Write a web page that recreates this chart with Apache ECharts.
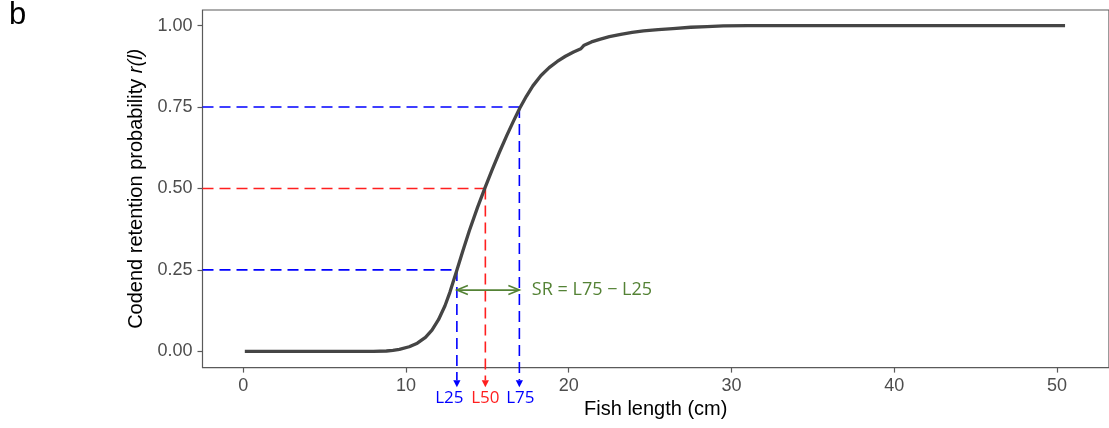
<!DOCTYPE html>
<html><head><meta charset="utf-8">
<script src="https://cdn.jsdelivr.net/npm/echarts@6/dist/echarts.min.js"></script>
<style>html,body{margin:0;padding:0;background:#fff}#c{width:1109px;height:428px}</style>
</head><body><div id="c"></div>
<script>
// ---- data ----
const fishLength = [0.1, 2, 4, 6, 8, 8.8, 9.2, 9.6, 10.2, 10.7, 11.2, 11.6, 12.0, 12.4, 12.7, 13.1, 13.5, 13.9, 14.4, 14.85, 15.3, 15.75, 16.2, 16.6, 17.0, 17.4, 17.8, 18.3, 18.8, 19.3, 19.8, 20.3, 20.75, 20.95, 21.4, 21.9, 22.5, 23.2, 23.9, 24.6, 25.5, 26.4, 27.5, 28.5, 29.5, 31, 33, 36, 40, 45, 50.5];
const retention = [0, 0, 0, 0, 0, 0.001, 0.003, 0.006, 0.014, 0.025, 0.043, 0.065, 0.097, 0.140, 0.181, 0.244, 0.309, 0.371, 0.442, 0.501, 0.558, 0.612, 0.663, 0.706, 0.747, 0.783, 0.815, 0.847, 0.871, 0.890, 0.906, 0.919, 0.929, 0.940, 0.950, 0.958, 0.966, 0.973, 0.979, 0.984, 0.988, 0.991, 0.995, 0.997, 0.999, 1.0, 1.0, 1.0, 1.0, 1.0, 1.0];
const xTicks = [0, 10, 20, 30, 40, 50];
const yTicks = [0, 0.25, 0.5, 0.75, 1.0];
const guideNames = ['L25', 'L50', 'L75'];
const guideLengths = [13.13, 14.88, 16.97];
const guideLevels = [0.25, 0.50, 0.75];
const srLevel = 0.188;
const srText = 'SR = L75 \u2212 L25';
const arrowEnd = -0.11;

// ---- styles ----
const X_MIN = -2.5, X_MAX = 53.2, Y_MIN = -0.05, Y_MAX = 1.048;
const guideColors = ['#0000ff', '#ff1f1f', '#0000ff'];
const labelShift = [-7.5, 0, 1];
const green = '#548235';
const frame = '#5a5a5a';
const axisFont = '"Liberation Sans", Arial, sans-serif';
const annFont = '"Open Sans", "Noto Sans", sans-serif';

const chart = echarts.init(document.getElementById('c'), null, {renderer: 'canvas'});

const option = {
  animation: false,
  backgroundColor: '#ffffff',
  grid: {left: 202.5, top: 10, right: -3, bottom: 60.4, show: true, borderColor: frame, borderWidth: 1.2, backgroundColor: 'transparent'},
  xAxis: {
    type: 'value', min: X_MIN, max: X_MAX,
    name: 'Fish length (cm)', nameLocation: 'middle', nameGap: 32,
    nameTextStyle: {fontFamily: axisFont, fontSize: 20, color: '#000'},
    axisLine: {show: false, onZero: false},
    axisTick: {show: true, length: 5, customValues: xTicks, lineStyle: {color: frame, width: 1.2}},
    axisLabel: {customValues: xTicks, margin: 9, fontFamily: axisFont, fontSize: 18, color: '#4d4d4d'},
    splitLine: {show: false}
  },
  yAxis: {
    type: 'value', min: Y_MIN, max: Y_MAX,
    name: 'Codend retention probability {i|r(l)}', nameLocation: 'middle', nameGap: 56, nameRotate: 90,
    nameTextStyle: {fontFamily: axisFont, fontSize: 20, color: '#000', rich: {i: {fontFamily: axisFont, fontSize: 20, fontStyle: 'italic', color: '#000'}}},
    axisLine: {show: false, onZero: false},
    axisTick: {show: true, length: 5, customValues: yTicks, lineStyle: {color: frame, width: 1.2}},
    axisLabel: {customValues: yTicks, margin: 10, fontFamily: axisFont, fontSize: 18, color: '#4d4d4d', formatter: v => v.toFixed(2)},
    splitLine: {show: false}
  },
  graphic: [{type: 'text', left: 9, top: 0, style: {text: 'b', font: '31px "Liberation Sans", Arial, sans-serif', fill: '#000'}}],
  series: [
    {
      type: 'custom', z: 2, clip: false,
      encode: {x: 0, y: 1},
      data: guideLengths.map((l, i) => [l, guideLevels[i]]),
      renderItem: function (params, api) {
        const i = params.dataIndex;
        const L = api.value(0), lev = api.value(1);
        const pL = api.coord([X_MIN, lev]);
        const pc = api.coord([L, lev]);
        const pe = api.coord([L, arrowEnd]);
        const col = guideColors[i];
        const head = 7, hw = 3.6;
        const dash = {stroke: col, lineWidth: 1.6, lineDash: [11, 6]};
        return {type: 'group', children: [
          {type: 'line', shape: {x1: pL[0], y1: pc[1], x2: pc[0], y2: pc[1]}, style: dash},
          {type: 'line', shape: {x1: pc[0], y1: pc[1], x2: pc[0], y2: pe[1] - head}, style: dash},
          {type: 'polygon', shape: {points: [[pe[0] - hw, pe[1] - head], [pe[0] + hw, pe[1] - head], [pe[0], pe[1]]]}, style: {fill: col}},
          {type: 'text', x: pe[0] + labelShift[i], y: pe[1] + 11.5, style: {text: guideNames[i], fill: col, font: '17px ' + annFont, align: 'center', verticalAlign: 'middle'}}
        ]};
      }
    },
    {
      type: 'custom', z: 2, clip: false,
      encode: {x: [0, 1], y: 2},
      data: [[guideLengths[0], guideLengths[2], srLevel]],
      renderItem: function (params, api) {
        const a = api.coord([api.value(0), api.value(2)]);
        const b = api.coord([api.value(1), api.value(2)]);
        const y = a[1], hl = 11, hw = 4.5;
        const st = {stroke: green, lineWidth: 1.6, fill: null};
        return {type: 'group', children: [
          {type: 'line', shape: {x1: a[0], y1: y, x2: b[0], y2: y}, style: st},
          {type: 'polyline', shape: {points: [[a[0] + hl, y - hw], [a[0], y], [a[0] + hl, y + hw]]}, style: st},
          {type: 'polyline', shape: {points: [[b[0] - hl, y - hw], [b[0], y], [b[0] - hl, y + hw]]}, style: st},
          {type: 'text', x: b[0] + 12.5, y: y, style: {text: srText, fill: green, font: '18px ' + annFont, align: 'left', verticalAlign: 'middle'}}
        ]};
      }
    },
    {
      type: 'line', z: 3,
      data: fishLength.map((l, i) => [l, retention[i]]),
      showSymbol: false, symbol: 'none',
      smooth: false,
      lineStyle: {color: '#454545', width: 3.3, cap: 'butt', join: 'round'}
    }
  ]
};
chart.setOption(option);
</script>
</body></html>
